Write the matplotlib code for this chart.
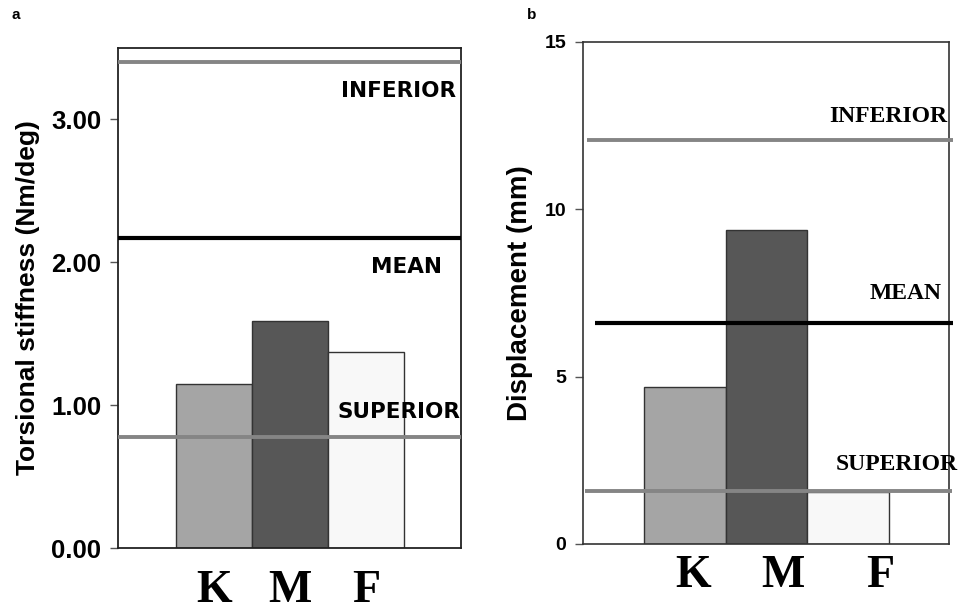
import numpy as np
import matplotlib
matplotlib.use("Agg")
import matplotlib.pyplot as plt

groups = ["K", "M", "F"]
bar_colors = ["#a5a5a5", "#575757", "#f8f8f8"]

# panel a: torsional stiffness
stiff_values = [1.15, 1.59, 1.37]
stiff_refs = {"INFERIOR": 3.40, "MEAN": 2.17, "SUPERIOR": 0.78}
stiff_ticks = [0.0, 1.0, 2.0, 3.0]
stiff_ticklabels = ["0.00", "1.00", "2.00", "3.00"]

# panel b: displacement
disp_values = [4.68, 9.39, 1.55]
disp_refs = {"INFERIOR": 12.06, "MEAN": 6.59, "SUPERIOR": 1.58}
disp_ticks = [0, 5, 10, 15]
disp_ticklabels = ["0", "5", "10", "15"]

SANS = "Liberation Sans"
SERIF = "Liberation Serif"
ref_colors = {"INFERIOR": "#858585", "MEAN": "#000000", "SUPERIOR": "#858585"}
ref_widths = {"INFERIOR": 2.8, "MEAN": 3.0, "SUPERIOR": 2.8}

fig = plt.figure(figsize=(9.67, 6.11), dpi=100)
ax1 = fig.add_axes([0.122, 0.1031, 0.3547, 0.8183])
ax2 = fig.add_axes([0.6029, 0.1097, 0.3785, 0.8216])

x = np.arange(len(groups))

# ---- panel a ----
ax1.bar(x, stiff_values, width=1.0, color=bar_colors, edgecolor="#333333",
        linewidth=1.0, zorder=2)
for name, val in stiff_refs.items():
    ax1.axhline(val, color=ref_colors[name], linewidth=ref_widths[name], zorder=3)
ax1.set_xlim(-1.26, 3.25)
ax1.set_ylim(0, 3.5)
ax1.set_yticks(stiff_ticks)
ax1.set_yticklabels(stiff_ticklabels, fontfamily=SANS, fontweight="bold", fontsize=18.5)
ax1.set_xticks(x)
ax1.set_xticklabels(groups, fontfamily=SERIF, fontweight="bold", fontsize=33)
ax1.tick_params(axis="x", length=0, pad=16)
ax1.tick_params(axis="y", length=6, width=1, color="#555555", pad=6)
ax1.set_ylabel("Torsional stiffness (Nm/deg)", fontfamily=SANS, fontweight="bold",
               fontsize=19, labelpad=8)
for sp in ax1.spines.values():
    sp.set_linewidth(1.3)
    sp.set_color("#222222")

# text labels for reference lines (axes fraction positions)
lab_a = dict(transform=ax1.transAxes, ha="right", va="center",
             fontfamily="DejaVu Sans", fontweight="bold", fontsize=15.5)
ax1.text(0.985, 0.915, "INFERIOR", **lab_a)
ax1.text(0.945, 0.562, "MEAN", **lab_a)
ax1.text(0.998, 0.273, "SUPERIOR", **lab_a)

# ---- panel b ----
ax2.bar(x, disp_values, width=1.0, color=bar_colors, edgecolor="#333333",
        linewidth=1.0, zorder=2)
line_span = {"INFERIOR": (0.011, 1.011), "MEAN": (0.033, 1.011), "SUPERIOR": (0.005, 1.008)}
for name, val in disp_refs.items():
    x0, x1 = line_span[name]
    ax2.plot([x0, x1], [val, val], transform=ax2.get_yaxis_transform(),
             color=ref_colors[name], linewidth=ref_widths[name], zorder=3,
             clip_on=False, solid_capstyle="butt")
ax2.set_xlim(-1.25, 3.24)
ax2.set_ylim(0, 15)
ax2.set_yticks(disp_ticks)
ax2.set_yticklabels(disp_ticklabels, fontfamily=SANS, fontweight="bold", fontsize=14)
# tick labels sit a bit right of the bar centres in the original
ax2.set_xticks([0.1, 1.2, 2.4])
ax2.set_xticklabels(groups, fontfamily=SERIF, fontweight="bold", fontsize=33)
ax2.tick_params(axis="x", length=0, pad=8)
ax2.tick_params(axis="y", length=6, width=1, color="#555555", pad=6)
ax2.set_ylabel("Displacement (mm)", fontfamily=SANS, fontweight="bold",
               fontsize=20, labelpad=8)
for sp in ax2.spines.values():
    sp.set_linewidth(1.2)
    sp.set_color("#333333")

lab_b = dict(transform=ax2.transAxes, ha="right", va="center",
             fontfamily=SERIF, fontweight="bold", fontsize=17)
ax2.text(0.995, 0.852, "INFERIOR", **lab_b)
ax2.text(0.98, 0.498, "MEAN", **lab_b)
ax2.text(1.025, 0.159, "SUPERIOR", **lab_b)

# panel letters
fig.text(0.012, 0.975, "a", fontfamily=SANS, fontweight="bold", fontsize=11, va="center")
fig.text(0.545, 0.975, "b", fontfamily=SANS, fontweight="bold", fontsize=11, va="center")

fig.savefig("out.png", dpi=100)
